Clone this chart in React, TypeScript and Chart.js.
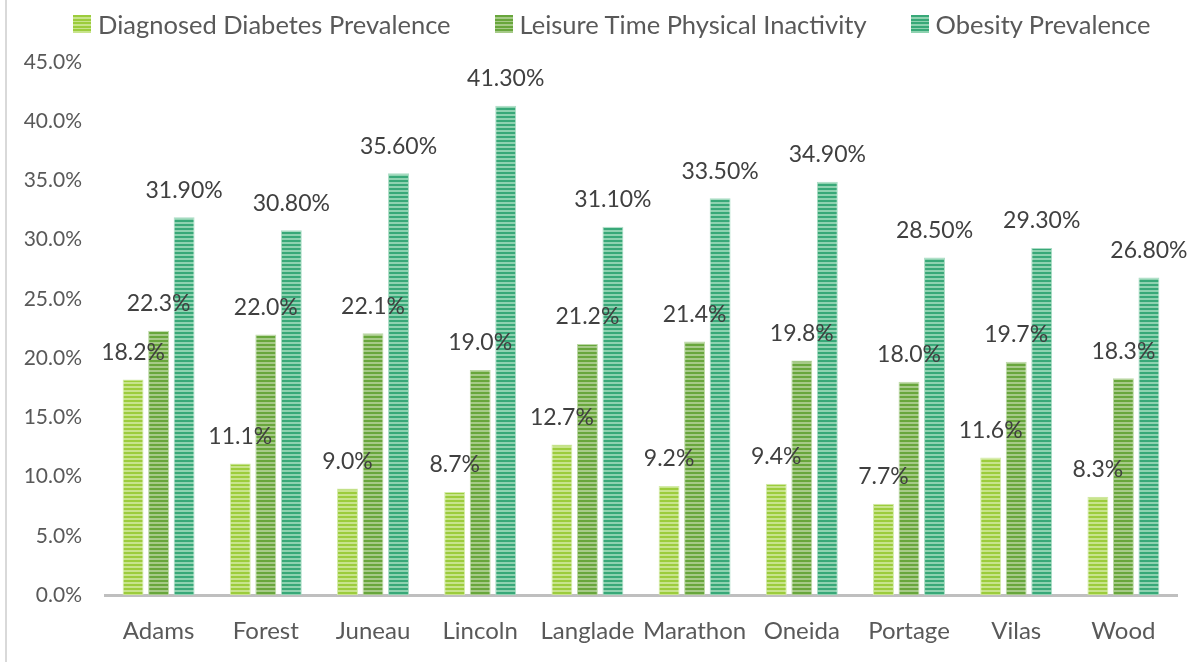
import React, { useEffect, useRef } from "react";
import { Chart, registerables } from "chart.js";

Chart.register(...registerables);

const counties = ["Adams", "Forest", "Juneau", "Lincoln", "Langlade", "Marathon", "Oneida", "Portage", "Vilas", "Wood"];
const diabetes = [18.2, 11.1, 9.0, 8.7, 12.7, 9.2, 9.4, 7.7, 11.6, 8.3];
const inactivity = [22.3, 22.0, 22.1, 19.0, 21.2, 21.4, 19.8, 18.0, 19.7, 18.3];
const obesity = [31.9, 30.8, 35.6, 41.3, 31.1, 33.5, 34.9, 28.5, 29.3, 26.8];
const yTicks = [0, 5, 10, 15, 20, 25, 30, 35, 40, 45];

const seriesNames = ["Diagnosed Diabetes Prevalence", "Leisure Time Physical Inactivity", "Obesity Prevalence"];
// dark stripe, light stripe, bar edge
const seriesColors = [
  ["#9ccc3c", "#c8e48c", "#d4ecaa"],
  ["#68a63c", "#a6ca88", "#bcd9a6"],
  ["#38a878", "#8ed2b0", "#aadcc4"],
];

const FONT = "Lato, 'Open Sans', sans-serif";

function stripes(ctx: CanvasRenderingContext2D, dark: string, light: string) {
  const tile = document.createElement("canvas");
  tile.width = 4;
  tile.height = 4;
  const t = tile.getContext("2d")!;
  t.fillStyle = light;
  t.fillRect(0, 0, 4, 4);
  t.fillStyle = dark;
  t.fillRect(0, 0, 4, 2);
  return ctx.createPattern(tile, "repeat")!;
}

const valueLabels = {
  id: "valueLabels",
  afterDatasetsDraw(chart: any) {
    const ctx = chart.ctx as CanvasRenderingContext2D;
    ctx.save();
    ctx.font = `23px ${FONT}`;
    ctx.fillStyle = "#404040";
    ctx.textAlign = "center";
    ctx.textBaseline = "middle";
    chart.data.datasets.forEach((ds: any, di: number) => {
      const meta = chart.getDatasetMeta(di);
      meta.data.forEach((bar: any, i: number) => {
        const v = ds.data[i] as number;
        const txt = di === 2 ? v.toFixed(2) + "%" : v.toFixed(1) + "%";
        ctx.fillText(txt, bar.x, bar.y - 27);
      });
    });
    ctx.restore();
  },
};

function Legend() {
  return (
    <div
      style={{
        position: "absolute",
        left: 73,
        top: 8,
        height: 32,
        display: "flex",
        alignItems: "center",
        gap: 44,
        fontFamily: FONT,
        fontSize: 25.5,
        color: "#595959",
        whiteSpace: "nowrap",
      }}
    >
      {seriesNames.map((name, i) => (
        <div key={name} style={{ display: "flex", alignItems: "center", gap: 7 }}>
          <span
            style={{
              width: 18,
              height: 18,
              display: "inline-block",
              background: `repeating-linear-gradient(to bottom, ${seriesColors[i][0]} 0px, ${seriesColors[i][0]} 2px, ${seriesColors[i][1]} 2px, ${seriesColors[i][1]} 3.6px)`,
            }}
          />
          <span>{name}</span>
        </div>
      ))}
    </div>
  );
}

export default function App() {
  const ref = useRef<HTMLCanvasElement>(null);

  useEffect(() => {
    const canvas = ref.current!;
    const ctx = canvas.getContext("2d")!;
    const barStyle = (i: number) => ({
      backgroundColor: stripes(ctx, seriesColors[i][0], seriesColors[i][1]),
      borderColor: seriesColors[i][2],
      borderWidth: { left: 1, right: 1, top: 1, bottom: 0 },
      borderSkipped: "bottom" as const,
      categoryPercentage: 0.714,
      barPercentage: 0.82,
    });
    const chart = new Chart(canvas, {
      type: "bar",
      data: {
        labels: counties,
        datasets: [
          { label: seriesNames[0], data: diabetes, ...barStyle(0) },
          { label: seriesNames[1], data: inactivity, ...barStyle(1) },
          { label: seriesNames[2], data: obesity, ...barStyle(2) },
        ],
      },
      options: {
        responsive: false,
        animation: false,
        layout: { padding: { top: 62, right: 21, bottom: 15, left: 0 } },
        plugins: {
          tooltip: { enabled: false },
          legend: { display: false },
        },
        scales: {
          x: {
            grid: { display: false, drawTicks: false },
            border: { display: true, color: "#bfbfbf", width: 3 },
            afterFit(scale: any) {
              scale.height = 52;
            },
            ticks: {
              font: { family: FONT, size: 24 },
              color: "#595959",
              padding: 22,
              maxRotation: 0,
              minRotation: 0,
              autoSkip: false,
            },
          },
          y: {
            min: 0,
            max: 45,
            grid: { display: false, drawTicks: false },
            border: { display: false },
            afterBuildTicks(scale: any) {
              scale.ticks = yTicks.map((v) => ({ value: v }));
            },
            afterFit(scale: any) {
              scale.width = 105;
            },
            ticks: {
              font: { family: FONT, size: 21 },
              color: "#595959",
              padding: 23,
              callback: (v: any) => Number(v).toFixed(1) + "%",
            },
          },
        },
      },
      plugins: [valueLabels],
    });
    return () => chart.destroy();
  }, []);

  return (
    <div style={{ position: "absolute", left: 0, top: 0, width: 1198, height: 662, background: "#fff" }}>
      <div style={{ position: "absolute", left: 5, top: 0, width: 2, height: 662, background: "#d9d9d9" }} />
      <canvas ref={ref} width={1198} height={662} style={{ display: "block" }} />
      <Legend />
    </div>
  );
}
